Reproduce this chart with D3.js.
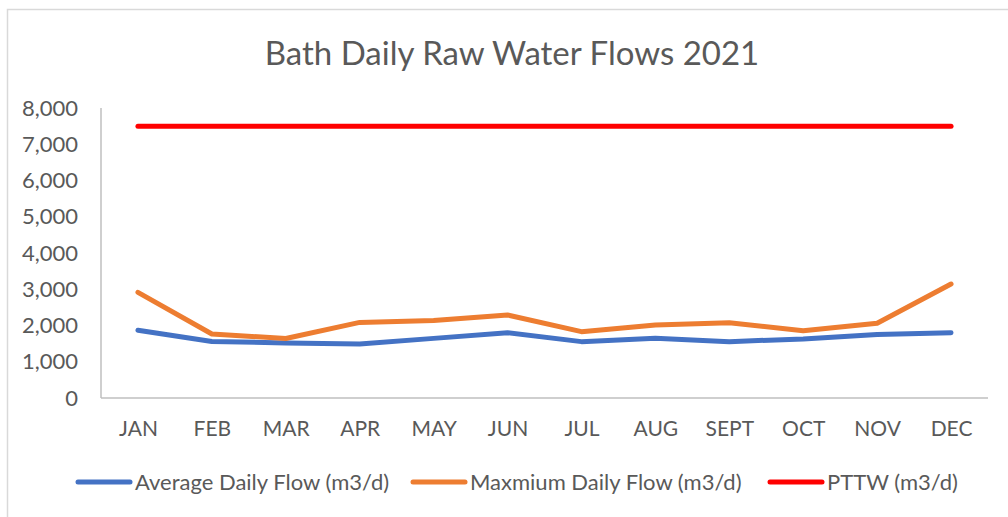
<!DOCTYPE html>
<html lang="en">
	<head>
		<meta charset="utf-8">
		<title>Bath Daily Raw Water Flows 2021</title>
		<script type="text/javascript" src="https://cdn.jsdelivr.net/npm/d3@7"></script>
		<style type="text/css">
			body{
				margin:0;
				background-color:white;
			}
			.axis text {
				font-family: Lato, sans-serif;
				fill: #595959;
			}
		</style>
	</head>
	<body>
	<div class="chart"></div>
	<script type="text/javascript">
	var months = ['JAN','FEB','MAR','APR','MAY','JUN','JUL','AUG','SEPT','OCT','NOV','DEC'];
	var avgFlow = [1870, 1560, 1520, 1490, 1645, 1800, 1555, 1645, 1555, 1630, 1755, 1800];
	var maxFlow = [2915, 1765, 1640, 2085, 2135, 2290, 1830, 2015, 2075, 1855, 2060, 3145];
	var pttw = [7500, 7500, 7500, 7500, 7500, 7500, 7500, 7500, 7500, 7500, 7500, 7500];
	var seriesNames = ['Average Daily Flow (m3/d)', 'Maxmium Daily Flow (m3/d)', 'PTTW (m3/d)'];
	var colors = ['#4472C4', '#ED7D31', '#FF0000'];
	var yTicks = [0, 1000, 2000, 3000, 4000, 5000, 6000, 7000, 8000];

	var width = 1008, height = 517;
	var plot = {left: 101, right: 988, top: 108, bottom: 398};

	var svg = d3.select('.chart')
				.append('svg')
				.attr('width', width)
				.attr('height', height);

	// outer chart border (only the top and left edges fall inside the picture)
	svg.append('rect')
		.attr('x', 7.5)
		.attr('y', 9.5)
		.attr('width', width)
		.attr('height', height)
		.attr('fill', 'white')
		.attr('stroke', '#d9d9d9')
		.attr('stroke-width', 1.5);

	svg.append('text')
		.attr('x', 512)
		.attr('y', 65)
		.attr('text-anchor', 'middle')
		.attr('font-family', 'Lato, sans-serif')
		.attr('font-size', '33px')
		.attr('fill', '#595959')
		.text('Bath Daily Raw Water Flows 2021');

	var x = d3.scalePoint()
			.domain(months)
			.range([plot.left, plot.right])
			.padding(0.5);

	var y = d3.scaleLinear()
			.domain([0, 8000])
			.range([plot.bottom, plot.top]);

	svg.append('g')
		.attr('class', 'axis')
		.attr('transform', 'translate(' + plot.left + ',0)')
		.call(d3.axisLeft(y).tickValues(yTicks).tickSize(0).tickPadding(23).tickFormat(d3.format(',')))
		.call(function(g) { g.select('.domain').remove(); })
		.selectAll('text')
		.attr('font-size', '22px');

	svg.append('g')
		.attr('class', 'axis')
		.attr('transform', 'translate(0,' + plot.bottom + ')')
		.call(d3.axisBottom(x).tickSize(0).tickPadding(23))
		.call(function(g) { g.select('.domain').remove(); })
		.selectAll('text')
		.attr('font-size', '21px');

	// axis lines
	svg.append('line')
		.attr('x1', plot.left).attr('x2', plot.left)
		.attr('y1', y(8000)).attr('y2', y(0))
		.attr('stroke', '#bfbfbf').attr('stroke-width', 1.5);
	svg.append('line')
		.attr('x1', plot.left).attr('x2', plot.right)
		.attr('y1', y(0)).attr('y2', y(0))
		.attr('stroke', '#bfbfbf').attr('stroke-width', 1.5);

	var line = d3.line()
				.x(function(d, i) { return x(months[i]); })
				.y(function(d) { return y(d); });

	var allSeries = [avgFlow, maxFlow, pttw];
	svg.selectAll('.series')
		.data(allSeries)
		.enter().append('path')
		.attr('class', 'series')
		.attr('d', line)
		.attr('fill', 'none')
		.attr('stroke', function(d, i) { return colors[i]; })
		.attr('stroke-width', 5)
		.attr('stroke-linecap', 'round')
		.attr('stroke-linejoin', 'round');

	// legend
	var legendX = [78, 413, 770];
	var legend = svg.selectAll('.legend')
					.data(seriesNames)
					.enter().append('g')
					.attr('class', 'legend')
					.attr('transform', function(d, i) { return 'translate(' + legendX[i] + ',482)'; });
	legend.append('line')
		.attr('x1', 0).attr('x2', 52)
		.attr('y1', 0).attr('y2', 0)
		.attr('stroke', function(d, i) { return colors[i]; })
		.attr('stroke-width', 5)
		.attr('stroke-linecap', 'round');
	legend.append('text')
		.attr('x', 57)
		.attr('y', 0)
		.attr('dy', '0.35em')
		.attr('font-family', 'Lato, sans-serif')
		.attr('font-size', '22px')
		.attr('fill', '#595959')
		.text(function(d) { return d; });
	</script>
	</body>
</html>
